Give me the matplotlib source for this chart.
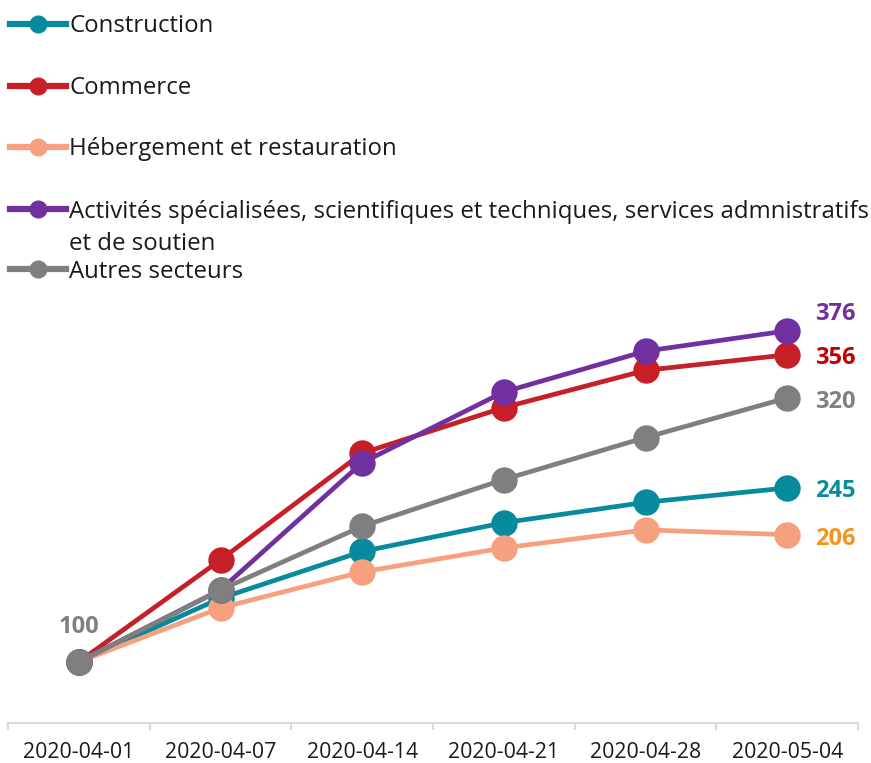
import matplotlib
matplotlib.use("Agg")
import matplotlib.pyplot as plt
from matplotlib.lines import Line2D

plt.rcParams["font.family"] = ["Open Sans", "DejaVu Sans"]

dates = ["2020-04-01", "2020-04-07", "2020-04-14", "2020-04-21", "2020-04-28", "2020-05-04"]
construction = [100, 153, 192, 216, 233, 245]
commerce = [100, 185, 274, 312, 343, 356]
hebergement = [100, 145, 175, 195, 210, 206]
activites = [100, 160, 266, 325, 359, 376]
autres = [100, 160, 213, 252, 287, 320]

names = ["Construction", "Commerce", "Hébergement et restauration",
         "Activités spécialisées, scientifiques et techniques, services admnistratifs\net de soutien",
         "Autres secteurs"]
series = [construction, commerce, hebergement, activites, autres]
colors = ["#07899e", "#c61f28", "#f5a07e", "#7030a0", "#7f7f7f"]
label_colors = ["#0a8aa0", "#c00000", "#f7941d", "#7030a0", "#808080"]
# vertical nudge of the end labels, in points
label_dy = [-2, -2, -3, 12, -3]

W, H = 871, 763
fig = plt.figure(figsize=(W / 100, H / 100), dpi=100)
ax = fig.add_axes([8 / W, 1 - 723 / H, 850 / W, (723 - 290) / H])

x = list(range(len(dates)))
for vals, c in zip(series, colors):
    ax.plot(x, vals, "-o", color=c, lw=3.4, ms=19, mew=0)

ax.set_xlim(-0.5, len(dates) - 0.5)
ax.set_ylim(49, 410)

for vals, lc, dy in zip(series, label_colors, label_dy):
    ax.annotate(f"{vals[-1]}", xy=(x[-1], vals[-1]), xytext=(20, dy),
                textcoords="offset points", ha="left", va="center",
                fontsize=17, fontweight="bold", color=lc)
ax.annotate(f"{autres[0]}", xy=(x[0], autres[0]), xytext=(0, 25),
            textcoords="offset points", ha="center", va="center",
            fontsize=17, fontweight="bold", color="#808080")

for s in ["left", "right", "top"]:
    ax.spines[s].set_visible(False)
ax.spines["bottom"].set_color("#d9d9d9")
ax.spines["bottom"].set_linewidth(1.5)
ax.set_yticks([])
ax.set_xticks(x)
ax.set_xticklabels(dates, fontsize=15.3, color="#1a1a1a")
ax.set_xticks([i - 0.5 for i in range(len(dates) + 1)], minor=True)
ax.tick_params(axis="x", which="major", length=0, pad=14)
ax.tick_params(axis="x", which="minor", length=5, width=1.5, color="#d9d9d9")

# legend at the top, drawn by hand to keep the overflowing second line
rows_y = [24, 86, 147, 209, 269]
base_y = [32, 94, 155, 218, 278]
for name, c, ry, by in zip(names, colors, rows_y, base_y):
    fy = 1 - ry / H
    fig.add_artist(Line2D([10 / W, 66 / W], [fy, fy], color=c, lw=4.5,
                          transform=fig.transFigure))
    fig.add_artist(Line2D([38 / W], [fy], marker="o", ms=13, mew=0, color=c,
                          transform=fig.transFigure))
    for k, line in enumerate(name.split("\n")):
        fig.text(69 / W, 1 - (by + 32 * k) / H, line, fontsize=17.25,
                 color="#1a1a1a", va="baseline", ha="left")

fig.savefig("out.png", dpi=100)
